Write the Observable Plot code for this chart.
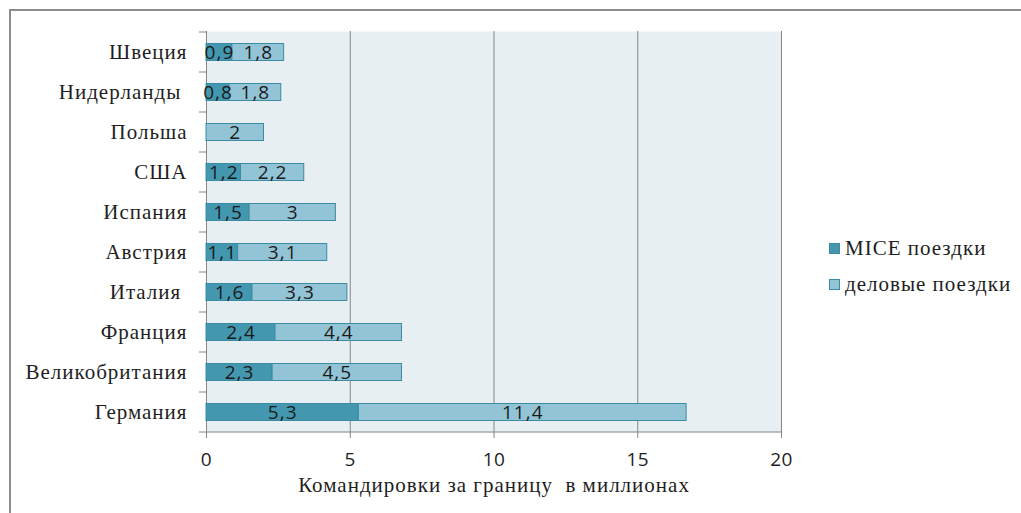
<!DOCTYPE html>
<html>
<head>
<meta charset="utf-8">
<script src="https://cdn.jsdelivr.net/npm/d3@7"></script>
<script src="https://cdn.jsdelivr.net/npm/@observablehq/plot@0.6"></script>
<style>
  html, body { margin: 0; padding: 0; background: #fff; }
  #wrap { position: relative; width: 1021px; height: 513px; overflow: hidden; }
  #border { position: absolute; left: 9px; top: 9px; width: 1030px; height: 520px; border-left: 2px solid #8c8c8c; border-top: 2px solid #8c8c8c; box-sizing: border-box; }
  #chart { position: absolute; left: 0; top: 0; }
  #legend { position: absolute; left: 829px; top: 230px; font-family: 'Liberation Serif', 'DejaVu Serif', serif; font-size: 21px; letter-spacing: 1px; color: #1e1e1e; }
  #legend .item { display: flex; align-items: center; height: 36px; }
  #legend .sw { width: 11px; height: 11px; box-sizing: border-box; margin-right: 5px; border: 1px solid #3a8ba3; }
  .serif text { font-family: 'Liberation Serif', 'DejaVu Serif', serif; letter-spacing: 1px; }
  .vlabels text { letter-spacing: 1px; }
  .xticks text { letter-spacing: 0.5px; }
</style>
</head>
<body>
<div id="wrap">
  <div id="border"></div>
  <div id="chart"></div>
  <div id="legend"></div>
</div>
<script>
const categories = ["Швеция", "Нидерланды\u00a0", "Польша", "США", "Испания", "Австрия", "Италия\u00a0", "Франция", "Великобритания", "Германия"];
const miceValues = [0.9, 0.8, null, 1.2, 1.5, 1.1, 1.6, 2.4, 2.3, 5.3];
const businessValues = [1.8, 1.8, 2, 2.2, 3, 3.1, 3.3, 4.4, 4.5, 11.4];
const seriesNames = ["MICE поездки", "деловые поездки"];
const seriesColors = ["#4398b0", "#93c4d6"];
const xTicks = [0, 5, 10, 15, 20];
const gridValues = [5, 10, 15, 20];
const xTitle = "Командировки за границу  в миллионах";

const data = categories.flatMap((c, i) => [
  {country: c, type: seriesNames[0], value: miceValues[i]},
  {country: c, type: seriesNames[1], value: businessValues[i]}
]).filter(d => d.value != null);

const fmt = v => String(v).replace(".", ",");

function yBoundaryTicks(index, scales, values, dimensions) {
  const g = d3.create("svg:g");
  const y = scales.y;
  const step = y(categories[1]) - y(categories[0]);
  const xs = dimensions.marginLeft;
  const bounds = categories.map(c => y(c));
  bounds.push(y(categories[categories.length - 1]) + step);
  for (const b of bounds) {
    g.append("line").attr("x1", xs - 7).attr("x2", xs).attr("y1", b).attr("y2", b)
      .attr("stroke", "#868686").attr("stroke-width", 1);
  }
  g.append("line").attr("x1", xs).attr("x2", dimensions.width - dimensions.marginRight)
    .attr("y1", bounds[bounds.length - 1]).attr("y2", bounds[bounds.length - 1])
    .attr("stroke", "#868686").attr("stroke-width", 1);
  return g.node();
}

const chart = Plot.plot({
  width: 1021,
  height: 513,
  marginLeft: 206,
  marginRight: 240,
  marginTop: 31,
  marginBottom: 81,
  style: {background: "transparent", color: "#1e1e1e"},
  x: {domain: [0, 20], ticks: xTicks, label: null},
  y: {domain: categories, padding: 0, label: null},
  color: {domain: seriesNames, range: seriesColors},
  marks: [
    Plot.frame({fill: "#e8eff3", stroke: null}),
    Plot.ruleX(gridValues, {stroke: "#868686", strokeWidth: 1}),
    Plot.ruleX([0], {stroke: "#868686", strokeWidth: 1}),
    Plot.barX(data, Plot.stackX({
      x: "value", y: "country", fill: "type", order: seriesNames,
      stroke: "#3a8ba3", strokeWidth: 1, insetTop: 11.5, insetBottom: 11.5
    })),
    Plot.text(data, Plot.stackX({
      x: "value", y: "country", z: "type", order: seriesNames,
      text: d => fmt(d.value), fontFamily: "Open Sans", fontSize: 19, fill: "#1a1a1a", className: "vlabels"
    })),
    yBoundaryTicks,
    Plot.axisY({tickSize: 0, tickPadding: 19, fontSize: 21, label: null, className: "serif"}),
    Plot.axisX({ticks: xTicks, tickSize: 6, tickPadding: 14, stroke: "#868686", fontFamily: "Open Sans", fontSize: 19, label: null, className: "xticks"}),
    Plot.text([xTitle], {frameAnchor: "bottom", dy: 59, fontSize: 21, fill: "#1e1e1e", className: "serif"})
  ]
});
document.getElementById("chart").appendChild(chart);

const legend = document.getElementById("legend");
seriesNames.forEach((name, i) => {
  const item = document.createElement("div");
  item.className = "item";
  const sw = document.createElement("span");
  sw.className = "sw";
  sw.style.background = seriesColors[i];
  item.appendChild(sw);
  item.appendChild(document.createTextNode(name));
  legend.appendChild(item);
});
</script>
</body>
</html>
